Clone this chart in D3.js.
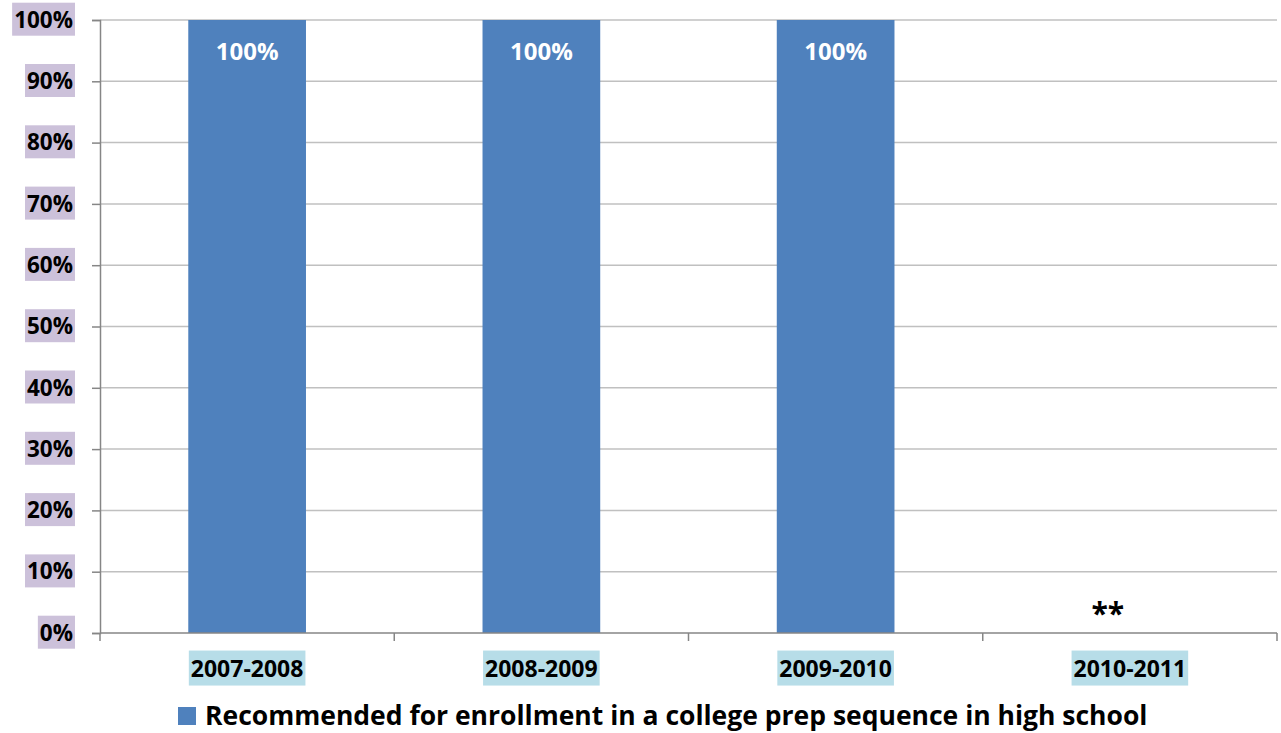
<!DOCTYPE html>
<html>
<head>
<meta charset="utf-8">
<script src="https://cdn.jsdelivr.net/npm/d3@7"></script>
<style>
  body { margin: 0; background: #fff; }
  svg text { font-family: "Open Sans", Lato, sans-serif; font-weight: 700; }
</style>
</head>
<body>
<div id="chart"></div>
<script>
// Chart data
const categories = ["2007-2008", "2008-2009", "2009-2010", "2010-2011"];
const values = [100, 100, 100, null];
const missingLabel = "**";
const yTicks = [0, 10, 20, 30, 40, 50, 60, 70, 80, 90, 100];
const seriesName = "Recommended for enrollment in a college prep sequence in high school";

const svgWidth = 1281, svgHeight = 733;
const margin = { top: 20, right: 4, bottom: 100, left: 100 };
const width = svgWidth - margin.left - margin.right;
const height = svgHeight - margin.top - margin.bottom;

const svg = d3.select("#chart")
    .append("svg")
    .attr("width", svgWidth)
    .attr("height", svgHeight);

const g = svg.append("g")
    .attr("transform", `translate(${margin.left},${margin.top})`);

const x = d3.scaleBand()
    .domain(categories)
    .range([0, width])
    .paddingInner(0.6)
    .paddingOuter(0.3);

const y = d3.scaleLinear()
    .domain([0, 100])
    .range([height, 0]);

// Gridlines
g.append("g")
    .selectAll("line")
    .data(yTicks.filter(d => d > 0))
    .enter()
    .append("line")
    .attr("x1", 0)
    .attr("x2", width)
    .attr("y1", d => y(d))
    .attr("y2", d => y(d))
    .attr("stroke", "#c0c0c0")
    .attr("stroke-width", 1.5);

// Bars
g.selectAll(".bar")
    .data(categories.map((c, i) => ({ cat: c, value: values[i] })).filter(d => d.value != null))
    .enter()
    .append("rect")
    .attr("class", "bar")
    .attr("x", d => x(d.cat))
    .attr("y", d => y(d.value))
    .attr("width", x.bandwidth())
    .attr("height", d => y(0) - y(d.value))
    .attr("fill", "#4f81bd");

// Y axis
const yAxis = d3.axisLeft(y)
    .tickValues(yTicks)
    .tickFormat(d => d + "%")
    .tickSize(8)
    .tickPadding(19);

const yAxisGroup = g.append("g").call(yAxis);
yAxisGroup.select(".domain").attr("stroke", "#868686").attr("stroke-width", 1.5);
yAxisGroup.selectAll(".tick line").attr("stroke", "#868686").attr("stroke-width", 1.5);
yAxisGroup.selectAll("text")
    .attr("font-size", "22.5px")
    .attr("fill", "#000");

// X axis
const xAxisGroup = g.append("g")
    .attr("transform", `translate(0,${height})`);

xAxisGroup.append("line")
    .attr("x1", 0).attr("x2", width)
    .attr("stroke", "#868686").attr("stroke-width", 1.5);

const xBoundaries = categories.map(c => x(c) - x.step() * x.paddingOuter())
    .concat([width]);
xAxisGroup.selectAll(".xtick")
    .data(xBoundaries)
    .enter()
    .append("line")
    .attr("x1", d => d).attr("x2", d => d)
    .attr("y1", 0).attr("y2", 8)
    .attr("stroke", "#868686").attr("stroke-width", 1.5);

xAxisGroup.selectAll(".xlabel")
    .data(categories)
    .enter()
    .append("text")
    .attr("class", "xlabel")
    .attr("x", d => x(d) + x.bandwidth() / 2)
    .attr("y", 36)
    .attr("dy", "0.35em")
    .attr("text-anchor", "middle")
    .attr("font-size", "23px")
    .attr("fill", "#000")
    .text(d => d);

// Label backgrounds
function addBackground(selection, fill, padX, boxH) {
    selection.each(function() {
        const b = this.getBBox();
        d3.select(this.parentNode)
            .insert("rect", () => this)
            .attr("x", b.x - padX)
            .attr("y", b.y + b.height / 2 - boxH / 2)
            .attr("width", b.width + padX * 2)
            .attr("height", boxH)
            .attr("fill", fill);
    });
}
addBackground(yAxisGroup.selectAll(".tick text"), "#ccc1da", 2, 33);
addBackground(xAxisGroup.selectAll(".xlabel"), "#b7dde8", 2, 35);

// Data labels ("**" marks the year with no data, set a little left of centre)
g.selectAll(".value-label")
    .data(categories.map((c, i) => ({ cat: c, value: values[i] })))
    .enter()
    .append("text")
    .attr("class", "value-label")
    .attr("x", d => x(d.cat) + x.bandwidth() / 2)
    .attr("y", d => d.value != null ? y(d.value) + 32 : y(0) - 20)
    .attr("dx", d => d.value != null ? 0 : -22)
    .attr("dy", "0.35em")
    .attr("text-anchor", "middle")
    .attr("font-size", d => d.value != null ? "24px" : "30px")
    .attr("fill", d => d.value != null ? "#fff" : "#000")
    .text(d => d.value != null ? d.value + "%" : missingLabel);

// Legend
const legend = svg.append("g")
    .attr("transform", `translate(178,707)`);

legend.append("rect")
    .attr("width", 18)
    .attr("height", 18)
    .attr("fill", "#4f81bd");

legend.append("text")
    .attr("x", 27)
    .attr("y", 18)
    .attr("font-size", "26.5px")
    .attr("fill", "#000")
    .text(seriesName);
</script>
</body>
</html>
